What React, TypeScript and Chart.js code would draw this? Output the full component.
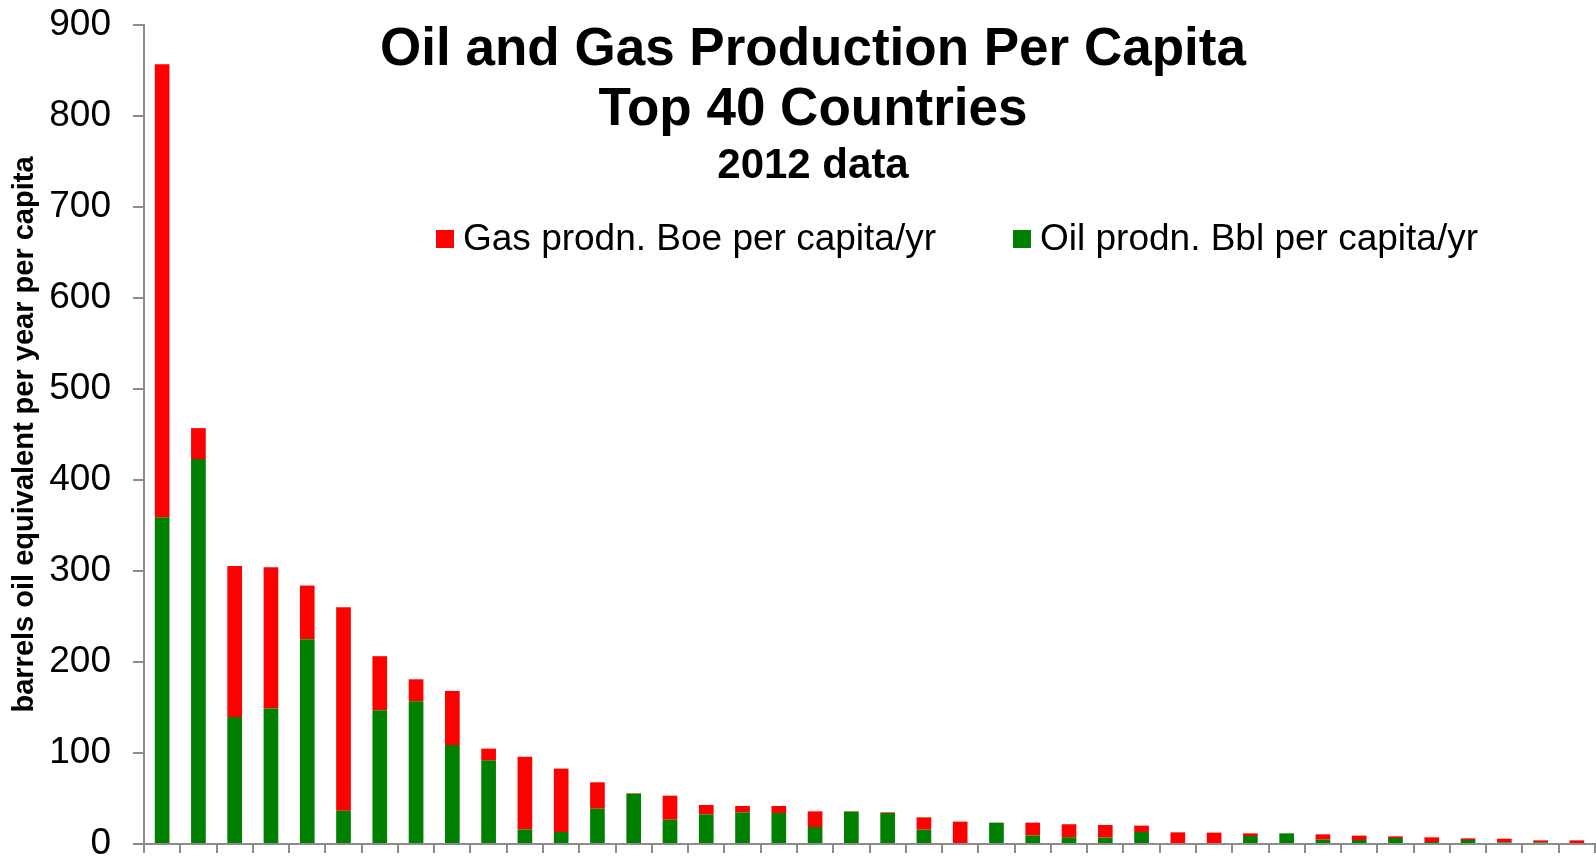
import React, { useEffect, useRef } from "react";
import { Chart, registerables } from "chart.js";

Chart.register(...registerables);

const categories: string[] = [
  "#1", "#2", "#3", "#4", "#5", "#6", "#7", "#8", "#9", "#10",
  "#11", "#12", "#13", "#14", "#15", "#16", "#17", "#18", "#19", "#20",
  "#21", "#22", "#23", "#24", "#25", "#26", "#27", "#28", "#29", "#30",
  "#31", "#32", "#33", "#34", "#35", "#36", "#37", "#38", "#39", "#40",
];

const oilBblPerCapita: number[] = [
  359, 423, 139.6, 149, 225, 36.6, 147, 156.8, 108.8, 92,
  16, 13.2, 38.8, 55.3, 26.7, 32.6, 34.8, 34.1, 18.7, 35.5,
  34.1, 15.8, 0, 23.5, 9.5, 7.5, 7, 13.2, 0, 0,
  8.8, 11.7, 4.8, 4.4, 6.6, 2.2, 4.4, 1.8, 1.8, 0,
];

const gasBoePerCapita: number[] = [
  498, 34, 166, 155, 59, 223.6, 59.4, 24.2, 59.4, 12.8,
  80, 69.6, 29, 0.5, 26.4, 10.3, 7, 7.7, 17.2, 0.5,
  0.7, 13.5, 24.6, 0, 14, 14.2, 13.9, 7, 12.8, 12.5,
  2.9, 0, 5.8, 4.8, 1.8, 5.1, 1.8, 4, 2.2, 4,
];

const yTicks: number[] = [0, 100, 200, 300, 400, 500, 600, 700, 800, 900];

const titleLines: string[] = [
  "Oil and Gas Production Per Capita",
  "Top 40 Countries",
  "2012 data",
];
const yAxisTitle = "barrels oil equivalent per year per capita";
const gasLabel = "Gas prodn. Boe per capita/yr";
const oilLabel = "Oil prodn. Bbl per capita/yr";

const GAS_COLOR = "#FF0000";
const OIL_COLOR = "#008000";
const AXIS_COLOR = "#8C8C8C";
const FONT = "'Liberation Sans', Arial, sans-serif";

const overlayPlugin = {
  id: "titleAndLegend",
  afterDraw(chart: any) {
    const ctx = chart.ctx as CanvasRenderingContext2D;
    ctx.save();
    ctx.fillStyle = "#000";
    ctx.textAlign = "center";
    ctx.textBaseline = "alphabetic";
    const cx = 813;
    ctx.font = `bold 53px ${FONT}`;
    ctx.fillText(titleLines[0], cx, 65);
    ctx.fillText(titleLines[1], cx, 125);
    ctx.font = `bold 42px ${FONT}`;
    ctx.fillText(titleLines[2], cx, 178);

    // legend
    const ds = chart.data.datasets;
    const items = [
      { text: ds[1].label, color: ds[1].backgroundColor, x: 436 },
      { text: ds[0].label, color: ds[0].backgroundColor, x: 1013 },
    ];
    ctx.font = `37px ${FONT}`;
    ctx.textAlign = "left";
    for (const it of items) {
      ctx.fillStyle = it.color;
      ctx.fillRect(it.x, 230, 18, 18);
      ctx.fillStyle = "#000";
      ctx.fillText(it.text, it.x + 27, 250);
    }
    ctx.restore();
  },
};

export default function App() {
  const canvasRef = useRef<HTMLCanvasElement | null>(null);

  useEffect(() => {
    if (!canvasRef.current) return;
    const chart = new Chart(canvasRef.current, {
      type: "bar",
      data: {
        labels: categories,
        datasets: [
          {
            label: oilLabel,
            data: oilBblPerCapita,
            backgroundColor: OIL_COLOR,
            borderWidth: 0,
            barPercentage: 0.405,
            categoryPercentage: 1,
          },
          {
            label: gasLabel,
            data: gasBoePerCapita,
            backgroundColor: GAS_COLOR,
            borderWidth: 0,
            barPercentage: 0.405,
            categoryPercentage: 1,
          },
        ],
      },
      options: {
        responsive: false,
        animation: false,
        layout: { padding: { top: 25, right: 1, bottom: 0, left: 0 } },
        plugins: {
          legend: { display: false },
          title: { display: false },
          tooltip: { enabled: false },
        },
        scales: {
          x: {
            stacked: true,
            ticks: { display: false },
            grid: {
              display: true,
              drawOnChartArea: false,
              drawTicks: true,
              tickLength: 9,
              color: AXIS_COLOR,
              lineWidth: 2,
              offset: true,
            },
            border: { display: true, color: AXIS_COLOR, width: 2 },
            afterFit: (scale: any) => {
              scale.height = 17;
              scale.paddingLeft = 0;
              scale.paddingRight = 0;
            },
          },
          y: {
            stacked: true,
            min: 0,
            max: 900,
            afterBuildTicks: (scale: any) => {
              scale.ticks = yTicks.map((v) => ({ value: v }));
            },
            ticks: {
              stepSize: 100,
              color: "#000",
              padding: 22,
              font: { family: FONT, size: 37 },
            },
            grid: {
              display: true,
              drawOnChartArea: false,
              drawTicks: true,
              tickLength: 11,
              color: AXIS_COLOR,
              lineWidth: 2,
            },
            border: { display: true, color: AXIS_COLOR, width: 2 },
            title: {
              display: true,
              text: yAxisTitle,
              color: "#000",
              padding: { top: 8, bottom: 0 },
              font: { family: FONT, size: 29, weight: "bold" },
            },
            afterFit: (scale: any) => {
              scale.width = 144;
              scale.paddingTop = 0;
              scale.paddingBottom = 0;
            },
          },
        },
      },
      plugins: [overlayPlugin],
    });
    return () => chart.destroy();
  }, []);

  return (
    <div style={{ position: "absolute", left: 0, top: 0, width: 1596, height: 861, background: "#fff" }}>
      <canvas ref={canvasRef} width={1596} height={861} style={{ display: "block" }} />
    </div>
  );
}
